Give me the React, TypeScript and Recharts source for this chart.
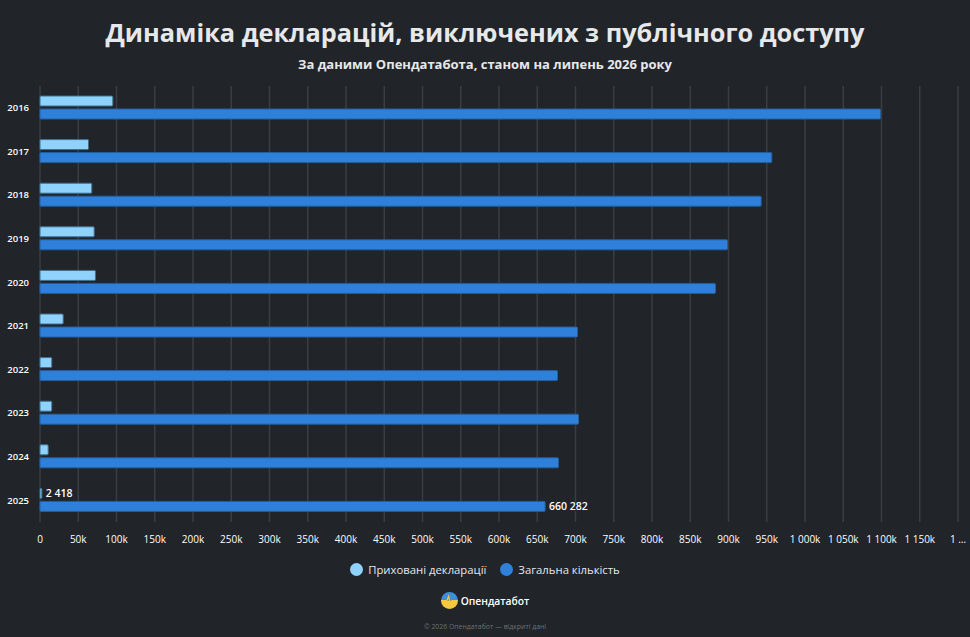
import React from 'react';
import { BarChart, Bar, XAxis, YAxis, CartesianGrid, LabelList } from 'recharts';

// Роки звітності
const YEARS = ['2016', '2017', '2018', '2019', '2020', '2021', '2022', '2023', '2024', '2025'];
// Приховані декларації
const HIDDEN = [95200, 63400, 67700, 70800, 72500, 30300, 15400, 15400, 10700, 2418];
// Загальна кількість декларацій
const TOTAL = [1098700, 956600, 942700, 898700, 883000, 702600, 676500, 704000, 677800, 660282];
const X_TICKS = [
  0, 50000, 100000, 150000, 200000, 250000, 300000, 350000, 400000, 450000, 500000, 550000,
  600000, 650000, 700000, 750000, 800000, 850000, 900000, 950000, 1000000, 1050000, 1100000,
  1150000, 1200000,
];

const BG = '#212428';
const FONT = '"Open Sans", "Noto Sans", sans-serif';
const C_HIDDEN = '#8fd3fd';
const C_TOTAL = '#2e80da';

const data = YEARS.map((year, i) => ({ year, hidden: HIDDEN[i], total: TOTAL[i] }));

const spaced = (n: number) => String(n).replace(/\B(?=(\d{3})+(?!\d))/g, ' ');

const formatX = (v: number) => {
  if (v === 0) return '0';
  if (v >= 1200000) return '1 …';
  return `${spaced(v / 1000)}k`;
};

// only the last year carries value labels
const lastLabel = (props: any) => {
  const { x, y, width, height, value, index } = props;
  if (index !== YEARS.length - 1) return null;
  return (
    <text
      x={x + width + 4}
      y={y + height / 2}
      dy="0.35em"
      fill="#ffffff"
      fontSize={10.5}
      fontWeight={600}
      fontFamily={FONT}
      stroke={BG}
      strokeWidth={2}
      paintOrder="stroke"
    >
      {spaced(value)}
    </text>
  );
};

const Logo = () => (
  <svg width={17} height={17} viewBox="0 0 20 20">
    <defs>
      <clipPath id="lg">
        <circle cx={10} cy={10} r={10} />
      </clipPath>
    </defs>
    <g clipPath="url(#lg)">
      <rect x={0} y={0} width={20} height={10} fill="#3d8fdc" />
      <rect x={0} y={10} width={20} height={10} fill="#f6c841" />
      <polyline
        points="0,10 7,10 9,5 11,15 13,10 20,10"
        fill="none"
        stroke="#f6c841"
        strokeWidth={1.4}
      />
    </g>
  </svg>
);

const LegendDot = ({ color }: { color: string }) => (
  <span
    style={{
      display: 'inline-block',
      width: 13,
      height: 13,
      borderRadius: '50%',
      background: color,
      marginRight: 5,
    }}
  />
);

export default function App() {
  return (
    <div
      style={{
        position: 'fixed',
        left: 0,
        top: 0,
        width: 970,
        height: 637,
        background: BG,
        fontFamily: FONT,
        overflow: 'hidden',
      }}
    >
      <div
        style={{
          position: 'absolute',
          top: 15,
          width: '100%',
          textAlign: 'center',
          color: '#e6e8ea',
          fontSize: 25.3,
          fontWeight: 700,
        }}
      >
        Динаміка декларацій, виключених з публічного доступу
      </div>
      <div
        style={{
          position: 'absolute',
          top: 55,
          width: '100%',
          textAlign: 'center',
          color: '#e6e8ea',
          fontSize: 13,
          fontWeight: 700,
        }}
      >
        За даними Опендатабота, станом на липень 2026 року
      </div>

      <div style={{ position: 'absolute', left: 0, top: 0 }}>
        <BarChart
          width={970}
          height={560}
          data={data}
          layout="vertical"
          margin={{ top: 86, right: 12, bottom: 8, left: 0 }}
          barSize={10}
          barGap={3}
        >
          <CartesianGrid horizontal={false} stroke="#3a3e44" strokeWidth={1.5} />
          <XAxis
            type="number"
            domain={[0, 1200000]}
            ticks={X_TICKS}
            tickFormatter={formatX}
            axisLine={false}
            tickLine={false}
            tickSize={0}
            tickMargin={14}
            height={30}
            interval={0}
            tick={{ fill: '#ffffff', fontSize: 10, fontFamily: FONT }}
          />
          <YAxis
            type="category"
            dataKey="year"
            width={40}
            axisLine={false}
            tickLine={false}
            tickSize={0}
            tickMargin={11}
            tick={{ fill: '#ffffff', fontSize: 9.5, fontWeight: 600, fontFamily: FONT }}
          />
          <Bar
            dataKey="hidden"
            name="Приховані декларації"
            fill={C_HIDDEN}
            stroke="#3f6f8e"
            strokeWidth={1}
            radius={1}
            isAnimationActive={false}
          >
            <LabelList dataKey="hidden" content={lastLabel} />
          </Bar>
          <Bar
            dataKey="total"
            name="Загальна кількість"
            fill={C_TOTAL}
            stroke="#245f9e"
            strokeWidth={1}
            radius={1}
            isAnimationActive={false}
          >
            <LabelList dataKey="total" content={lastLabel} />
          </Bar>
        </BarChart>
      </div>

      <div
        style={{
          position: 'absolute',
          top: 562,
          width: '100%',
          display: 'flex',
          justifyContent: 'center',
          alignItems: 'center',
          color: '#e6e8ea',
          fontSize: 11.3,
        }}
      >
        <span style={{ display: 'flex', alignItems: 'center', marginRight: 14 }}>
          <LegendDot color={C_HIDDEN} />
          Приховані декларації
        </span>
        <span style={{ display: 'flex', alignItems: 'center' }}>
          <LegendDot color={C_TOTAL} />
          Загальна кількість
        </span>
      </div>

      <div
        style={{
          position: 'absolute',
          top: 592,
          width: '100%',
          display: 'flex',
          justifyContent: 'center',
          alignItems: 'center',
          color: '#ffffff',
          fontSize: 10.3,
          fontWeight: 600,
        }}
      >
        <Logo />
        <span style={{ marginLeft: 3 }}>Опендатабот</span>
      </div>

      <div
        style={{
          position: 'absolute',
          top: 622,
          width: '100%',
          textAlign: 'center',
          color: '#6c7178',
          fontSize: 6.9,
        }}
      >
        © 2026 Опендатабот — відкриті дані
      </div>
    </div>
  );
}
